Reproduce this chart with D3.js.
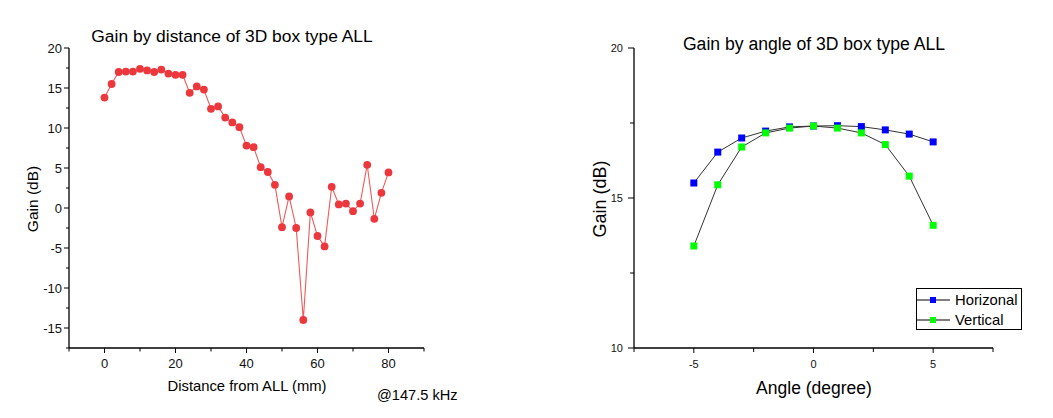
<!DOCTYPE html>
<html>
<head>
<meta charset="utf-8">
<script src="https://cdn.jsdelivr.net/npm/d3@7"></script>
<style>
  html, body { margin: 0; padding: 0; background: #fff; }
  svg { display: block; font-family: "Liberation Sans", Arial, sans-serif; }
</style>
</head>
<body>
<svg id="chart" width="1053" height="418"></svg>
<script>
// ---- Data: left chart (gain vs distance) ----
const distance = [0,2,4,6,8,10,12,14,16,18,20,22,24,26,28,30,32,34,36,38,40,42,44,46,48,50,52,54,56,58,60,62,64,66,68,70,72,74,76,78,80];
const gainByDistance = [13.8,15.5,17.0,17.05,17.05,17.4,17.2,17.0,17.3,16.8,16.65,16.65,14.4,15.2,14.8,12.4,12.7,11.3,10.7,10.1,7.8,7.6,5.1,4.5,2.9,-2.4,1.45,-2.5,-14.0,-0.55,-3.5,-4.8,2.65,0.45,0.55,-0.4,0.55,5.4,-1.35,1.9,4.45];
const leftXTicks = [0,20,40,60,80];
const leftYTicks = [-15,-10,-5,0,5,10,15,20];

// ---- Data: right chart (gain vs angle) ----
const angle = [-5,-4,-3,-2,-1,0,1,2,3,4,5];
const horizonal = [15.5,16.53,17.0,17.23,17.37,17.4,17.41,17.38,17.27,17.13,16.87];
const vertical = [13.4,15.44,16.7,17.17,17.33,17.4,17.33,17.17,16.78,15.73,14.09];
const rightXTicks = [-5,0,5];
const rightYTicks = [10,15,20];
const seriesNames = ["Horizonal","Vertical"];
const seriesColors = ["#0000ff","#00ff00"];

const svg = d3.select("#chart");
const black = "#000";

// ================= LEFT CHART =================
const xL = d3.scaleLinear().domain([-10, 90]).range([69, 424]);
const yL = d3.scaleLinear().domain([-17.5, 20]).range([348, 48]);

const gL = svg.append("g");

gL.append("line").attr("x1", xL(-10)).attr("x2", xL(-10)).attr("y1", yL(20)).attr("y2", yL(-17.5)).attr("stroke", black).attr("stroke-width", 1.3);
gL.append("line").attr("x1", xL(-10)).attr("x2", xL(90)).attr("y1", yL(-17.5)).attr("y2", yL(-17.5)).attr("stroke", black).attr("stroke-width", 1.3);

const yLAll = d3.range(-17.5, 20.01, 2.5);
gL.selectAll(".ytl").data(yLAll).enter().append("line")
  .attr("x1", d => xL(-10) - (Math.abs(d % 5) < 1e-6 ? 5 : 3))
  .attr("x2", xL(-10))
  .attr("y1", d => yL(d)).attr("y2", d => yL(d))
  .attr("stroke", black).attr("stroke-width", 1);
gL.selectAll(".ylab").data(leftYTicks).enter().append("text")
  .attr("x", xL(-10) - 7).attr("y", d => yL(d)).attr("dy", "0.36em")
  .attr("text-anchor", "end").attr("font-size", 13).attr("fill", "#111")
  .text(d => d);

const xLAll = d3.range(-10, 90.01, 10);
gL.selectAll(".xtl").data(xLAll).enter().append("line")
  .attr("x1", d => xL(d)).attr("x2", d => xL(d))
  .attr("y1", yL(-17.5)).attr("y2", d => yL(-17.5) + (d % 20 === 0 ? 5 : 3.5))
  .attr("stroke", black).attr("stroke-width", 1);
gL.selectAll(".xlab").data(leftXTicks).enter().append("text")
  .attr("x", d => xL(d)).attr("y", 368)
  .attr("text-anchor", "middle").attr("font-size", 13).attr("fill", "#111")
  .text(d => d);

const lineL = d3.line().x((d, i) => xL(distance[i])).y(d => yL(d));
gL.append("path").datum(gainByDistance).attr("d", lineL)
  .attr("fill", "none").attr("stroke", "#f05a5a").attr("stroke-width", 1.1);
gL.selectAll(".pt").data(gainByDistance).enter().append("circle")
  .attr("cx", (d, i) => xL(distance[i])).attr("cy", d => yL(d)).attr("r", 3.9)
  .attr("fill", "#ec383d");

gL.append("text").attr("x", 232).attr("y", 42).attr("text-anchor", "middle")
  .attr("font-size", 17.4).attr("fill", "#000").text("Gain by distance of 3D box type ALL");
gL.append("text").attr("transform", "translate(38,199) rotate(-90)").attr("text-anchor", "middle")
  .attr("font-size", 15.5).attr("fill", "#000").text("Gain (dB)");
gL.append("text").attr("x", 247).attr("y", 391).attr("text-anchor", "middle")
  .attr("font-size", 14.8).attr("fill", "#000").text("Distance from ALL (mm)");
gL.append("text").attr("x", 377).attr("y", 400).attr("text-anchor", "start")
  .attr("font-size", 14.6).attr("fill", "#000").text("@147.5 kHz");

// ================= RIGHT CHART =================
const xR = d3.scaleLinear().domain([-7.5, 7.5]).range([634, 993]);
const yR = d3.scaleLinear().domain([10, 20]).range([348, 48]);
const gR = svg.append("g");

gR.append("line").attr("x1", xR(-7.5)).attr("x2", xR(-7.5)).attr("y1", yR(20)).attr("y2", yR(10)).attr("stroke", black).attr("stroke-width", 1.3);
gR.append("line").attr("x1", xR(-7.5)).attr("x2", xR(7.5)).attr("y1", yR(10)).attr("y2", yR(10)).attr("stroke", black).attr("stroke-width", 1.3);

const yRAll = d3.range(10, 20.01, 2.5);
gR.selectAll(".ytr").data(yRAll).enter().append("line")
  .attr("x1", d => xR(-7.5) - (d % 5 === 0 ? 6 : 4)).attr("x2", xR(-7.5))
  .attr("y1", d => yR(d)).attr("y2", d => yR(d))
  .attr("stroke", black).attr("stroke-width", 1);
gR.selectAll(".ylabr").data(rightYTicks).enter().append("text")
  .attr("x", xR(-7.5) - 11).attr("y", d => yR(d)).attr("dy", "0.36em")
  .attr("text-anchor", "end").attr("font-size", 11).attr("fill", "#111").text(d => d);

const xRAll = d3.range(-7.5, 7.51, 2.5);
gR.selectAll(".xtr").data(xRAll).enter().append("line")
  .attr("x1", d => xR(d)).attr("x2", d => xR(d))
  .attr("y1", yR(10)).attr("y2", d => yR(10) + (d % 5 === 0 ? 5 : 4))
  .attr("stroke", black).attr("stroke-width", 1);
gR.selectAll(".xlabr").data(rightXTicks).enter().append("text")
  .attr("x", d => xR(d)).attr("y", 368).attr("text-anchor", "middle")
  .attr("font-size", 11).attr("fill", "#111").text(d => d);

const seriesData = [horizonal, vertical];
const lineR = d3.line().x((d, i) => xR(angle[i])).y(d => yR(d));
seriesData.forEach((vals, s) => {
  gR.append("path").datum(vals).attr("d", lineR)
    .attr("fill", "none").attr("stroke", "#333").attr("stroke-width", 1);
});
seriesData.forEach((vals, s) => {
  gR.selectAll(".sq" + s).data(vals).enter().append("rect")
    .attr("x", (d, i) => xR(angle[i]) - 3.5).attr("y", d => yR(d) - 3.5)
    .attr("width", 7).attr("height", 7).attr("fill", seriesColors[s]);
});

gR.append("text").attr("x", 814).attr("y", 50).attr("text-anchor", "middle")
  .attr("font-size", 17.6).attr("fill", "#000").text("Gain by angle of 3D box type ALL");
gR.append("text").attr("transform", "translate(606,199) rotate(-90)").attr("text-anchor", "middle")
  .attr("font-size", 18).attr("fill", "#000").text("Gain (dB)");
gR.append("text").attr("x", 814).attr("y", 394).attr("text-anchor", "middle")
  .attr("font-size", 17.5).attr("fill", "#000").text("Angle (degree)");

// legend
const lg = gR.append("g");
lg.append("rect").attr("x", 916.5).attr("y", 288.5).attr("width", 105).attr("height", 41)
  .attr("fill", "#fff").attr("stroke", black).attr("stroke-width", 1);
seriesNames.forEach((name, s) => {
  const cy = 300 + s * 20;
  lg.append("line").attr("x1", 916).attr("x2", 950).attr("y1", cy).attr("y2", cy).attr("stroke", black).attr("stroke-width", 1);
  lg.append("rect").attr("x", 930).attr("y", cy - 3).attr("width", 6).attr("height", 6).attr("fill", seriesColors[s]);
  lg.append("text").attr("x", 955).attr("y", cy).attr("dy", "0.36em").attr("font-size", 14.8)
    .attr("fill", "#000").text(name);
});
</script>
</body>
</html>
